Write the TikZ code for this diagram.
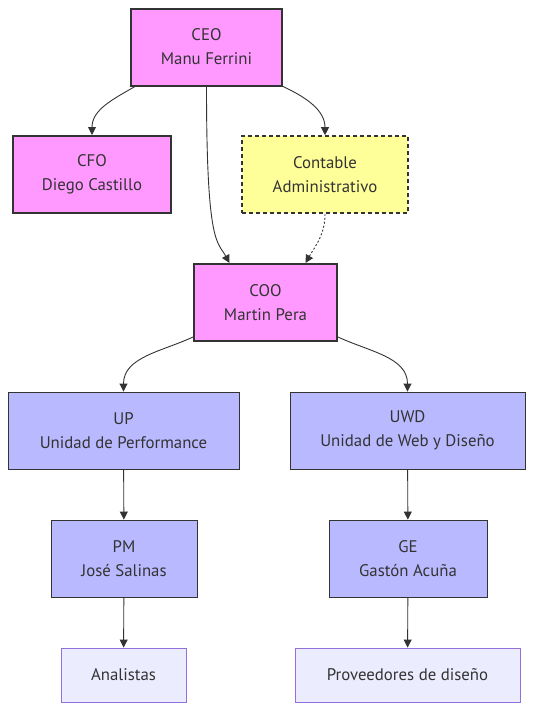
\documentclass[tikz,border=0pt]{standalone}
\usepackage{fontspec}
\setmainfont{PT Sans}
\usepackage{xcolor}
\usepackage{tikz}
\usetikzlibrary{arrows.meta,positioning,calc}

\definecolor{jefe}{HTML}{FF99FF}
\definecolor{extra}{HTML}{FFFF99}
\definecolor{unidad}{HTML}{B9B9FF}
\definecolor{hoja}{HTML}{ECECFF}
\definecolor{borde}{HTML}{333333}
\definecolor{lila}{HTML}{9370DB}

\begin{document}
\begin{tikzpicture}[x=1pt, y=-1pt,
  box/.style={draw=borde, align=center, text=borde, font=\fontsize{16.8}{24}\selectfont, inner sep=0pt, minimum height=77pt},
  head/.style={box, fill=jefe, line width=2pt},
  aux/.style={box, fill=extra, line width=1.6pt, dash pattern=on 4pt off 3pt},
  unit/.style={box, fill=unidad, line width=0.9pt},
  leaf/.style={box, fill=hoja, draw=lila, line width=0.9pt, minimum height=54pt},
  arr/.style={-{Triangle[length=8pt,width=8pt]}, draw=borde, line width=0.9pt}
]
\useasboundingbox (0,0) rectangle (534,710);

% direccion
\node[head, minimum width=151pt] (ceo) at (206.5,47) {CEO\\ Manu Ferrini};
\node[head, minimum width=158pt] (cfo) at (92,174.5) {CFO\\ Diego Castillo};
\node[aux, minimum width=166pt] (cont) at (325,174.5) {Contable\\ Administrativo};
\node[head, minimum width=143pt] (coo) at (265.5,302.5) {COO\\ Martin Pera};

% unidades
\node[unit, minimum width=231pt] (up) at (123.5,430.5) {UP\\ Unidad de Performance};
\node[unit, minimum width=235pt] (uwd) at (407.5,430.5) {UWD\\ Unidad de Web y Diseño};
\node[unit, minimum width=146pt] (pm) at (124,558.5) {PM\\ José Salinas};
\node[unit, minimum width=158pt] (ge) at (408,558.5) {GE\\ Gastón Acuña};

% equipos
\node[leaf, minimum width=125pt] (ana) at (123.5,675) {Analistas};
\node[leaf, minimum width=225pt] (prov) at (407.5,675) {Proveedores de diseño};

\draw[arr] ([xshift=5pt]ceo.south west) to[out=-150,in=90] (cfo.north);
\draw[arr] (ceo.south east) to[out=-25,in=90] (cont.north);
\draw[arr] (ceo.south) .. controls +(0,160) and +(-12,-22) .. ([xshift=-36pt]coo.north);
\draw[arr, dash pattern=on 2pt off 2pt] (cont.south) to[out=-90,in=60] ([xshift=40pt]coo.north);
\draw[arr] ([yshift=5pt]coo.south west) to[out=-155,in=90] (up.north);
\draw[arr] ([yshift=5pt]coo.south east) to[out=-25,in=90] (uwd.north);
\draw[arr] (up) -- (pm);
\draw[arr] (uwd) -- (ge);
\draw[arr] (pm) -- (ana);
\draw[arr] (ge) -- (prov);
\end{tikzpicture}
\end{document}
